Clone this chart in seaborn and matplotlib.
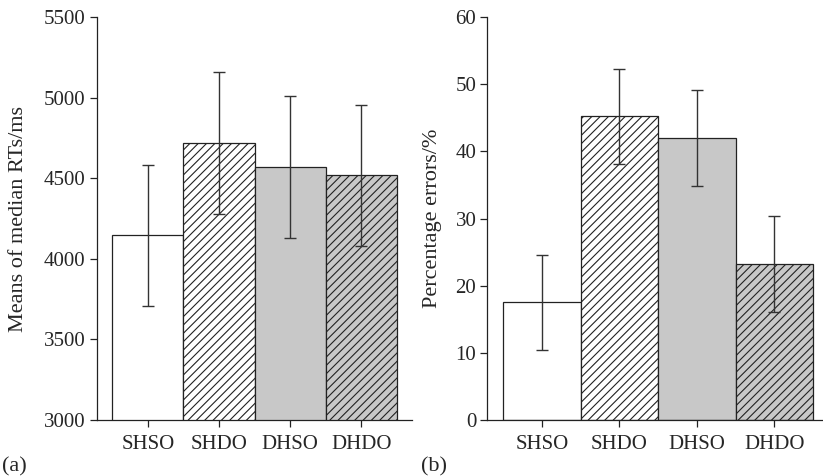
import matplotlib
matplotlib.use("Agg")
import matplotlib.pyplot as plt
import seaborn as sns
import pandas as pd

# conditions shown on both panels
conditions = ["SHSO", "SHDO", "DHSO", "DHDO"]

# panel (a): means of median RTs (ms) with error bar half-widths
rt_means = [4146, 4720, 4569, 4518]
rt_errors = [438, 440, 439, 437]

# panel (b): percentage errors with error bar half-widths
pct_means = [17.5, 45.2, 42.0, 23.2]
pct_errors = [7.1, 7.1, 7.1, 7.1]

bar_colors = ["white", "white", "#c8c8c8", "#c8c8c8"]
bar_hatches = ["", "////", "", "////"]

sns.set_style("ticks")
plt.rcParams["font.family"] = ["Liberation Serif", "DejaVu Serif"]
plt.rcParams["hatch.linewidth"] = 0.8
plt.rcParams["hatch.color"] = "#222222"

FS = 15


def draw_panel(ax, means, errors, ylim, yticks, ylabel, xlim, label_x):
    df = pd.DataFrame({"condition": conditions, "value": means})
    sns.barplot(data=df, x="condition", y="value", hue="condition",
                palette=bar_colors, legend=False, width=1.0,
                edgecolor="#222222", linewidth=0.9, errorbar=None, ax=ax)
    for patch, hatch in zip(ax.patches, bar_hatches):
        patch.set_hatch(hatch)
    ax.errorbar(range(len(conditions)), means, yerr=errors, fmt="none",
                ecolor="#333333", elinewidth=1.0, capsize=4.3, capthick=1.0)
    ax.set_xlim(*xlim)
    ax.set_ylim(*ylim)
    ax.set_yticks(yticks)
    ax.set_xlabel("")
    ax.set_ylabel(ylabel, fontsize=16)
    ax.yaxis.set_label_coords(label_x, 0.5)
    sns.despine(ax=ax)
    for side in ["left", "bottom"]:
        ax.spines[side].set_linewidth(0.9)
        ax.spines[side].set_color("#222222")
    ax.tick_params(axis="y", length=5, width=0.9, labelsize=FS, pad=3,
                   color="#222222")
    ax.tick_params(axis="x", length=5, width=0.9, labelsize=FS, pad=6,
                   color="#222222")


fig = plt.figure(figsize=(8.23, 4.76), dpi=100)
ax1 = fig.add_axes([0.1175, 0.1176, 0.3827, 0.8467])
ax2 = fig.add_axes([0.5923, 0.1176, 0.4077, 0.8467])

draw_panel(ax1, rt_means, rt_errors, (3000, 5500),
           [3000, 3500, 4000, 4500, 5000, 5500],
           "Means of median RTs/ms", (-0.719, 3.706), -0.218)
draw_panel(ax2, pct_means, pct_errors, (0, 60),
           [0, 10, 20, 30, 40, 50, 60],
           "Percentage errors/%", (-0.704, 3.63), -0.135)

fig.text(0.002, 0.019, "(a)", fontsize=16, ha="left", va="center")
fig.text(0.512, 0.019, "(b)", fontsize=16, ha="left", va="center")

fig.savefig("out.png", dpi=100)
